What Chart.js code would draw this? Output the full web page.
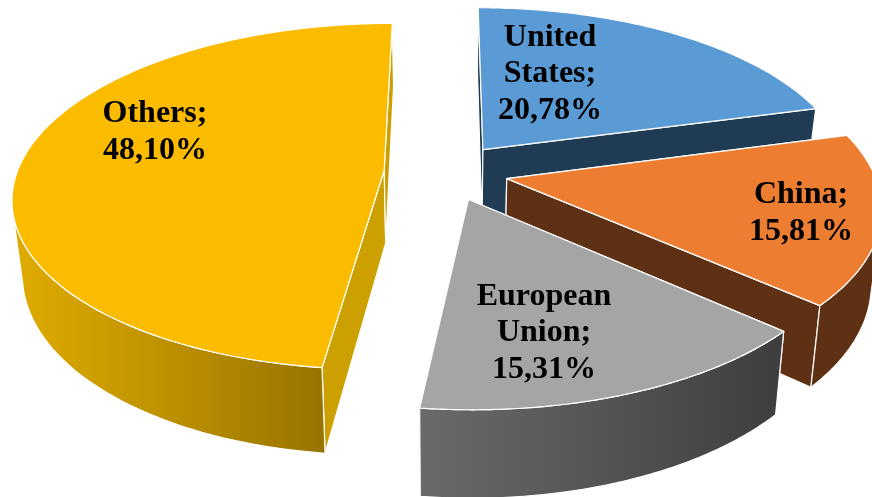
<!DOCTYPE html>
<html>
<head>
<meta charset="utf-8">
<title>Shares</title>
<script src="https://cdn.jsdelivr.net/npm/chart.js@4"></script>
<style>
    html, body { margin: 0; padding: 0; background: #fff; }
    canvas { display: block; }
</style>
</head>
<body>
<canvas id="pie" width="872" height="497"></canvas>
<script>
// Chart data
const categories = ['United States', 'China', 'European Union', 'Others'];
const shares = [20.78, 15.81, 15.31, 48.10];

// Slice colours: top face, cut faces, outer wall gradient (left to right)
const topColors = ['#5b9bd5', '#ed7d31', '#a5a5a5', '#fbbc00'];
const cutColors = ['#203c55', '#5f3114', '#404040', '#cca000'];
const wallLeftColors = ['#203c55', '#5f3114', '#6a6a6a', '#deaa00'];
const wallRightColors = ['#203c55', '#5f3114', '#3f3f3f', '#987400'];

// Label centres in page pixels
const labelX = [550, 801, 544, 155];
const labelY = [74, 213, 333, 132];

// Camera used to lay the flat pie down
const TILT = 0.462;
const PERSPECTIVE = 0.00041;
const DEPTH = 73;
const DEPTH_SHRINK = 0.024;

function project(arc, x, y, z) {
    const s = 1 / (1 - PERSPECTIVE * y);
    return { x: arc.x + x * s * (1 - DEPTH_SHRINK * z / DEPTH), y: arc.y + (TILT * y + z) * s };
}

function polygon(ctx, points) {
    ctx.beginPath();
    points.forEach((p, i) => i ? ctx.lineTo(p.x, p.y) : ctx.moveTo(p.x, p.y));
    ctx.closePath();
}

function paint(ctx, points, fill) {
    polygon(ctx, points);
    ctx.fillStyle = fill;
    ctx.fill();
    ctx.stroke();
}

// Takes the angles and radius Chart.js worked out for the arc and draws it as a solid wedge
function drawWedge(ctx, arc, index) {
    const mid = (arc.startAngle + arc.endAngle) / 2;
    const ox = Math.cos(mid) * arc.options.offset;
    const oy = Math.sin(mid) * arc.options.offset;
    const rim = [];
    for (let i = 0; i <= 96; i++) {
        const a = arc.startAngle + (arc.endAngle - arc.startAngle) * i / 96;
        rim.push([ox + Math.cos(a) * arc.outerRadius, oy + Math.sin(a) * arc.outerRadius]);
    }
    const up = rim.map(p => project(arc, p[0], p[1], 0));
    const down = rim.map(p => project(arc, p[0], p[1], DEPTH));
    const apexUp = project(arc, ox, oy, 0);
    const apexDown = project(arc, ox, oy, DEPTH);

    ctx.strokeStyle = '#fff';
    ctx.lineWidth = 1.2;
    ctx.lineJoin = 'round';

    // cut faces
    paint(ctx, [apexUp, up[0], down[0], apexDown], cutColors[index]);
    paint(ctx, [apexUp, up[96], down[96], apexDown], cutColors[index]);

    // outer wall, only the part of the rim that faces the viewer
    const seen = [];
    for (let i = 0; i < 96; i++) {
        const cross = (up[i + 1].x - up[i].x) * (down[i].y - up[i].y) - (up[i + 1].y - up[i].y) * (down[i].x - up[i].x);
        if (cross < 0) seen.push(i, i + 1);
    }
    if (seen.length) {
        const first = Math.min(...seen);
        const last = Math.max(...seen);
        const wallUp = up.slice(first, last + 1);
        const wallDown = down.slice(first, last + 1);
        const xs = wallDown.map(p => p.x);
        const gradient = ctx.createLinearGradient(Math.min(...xs), 0, Math.max(...xs), 0);
        gradient.addColorStop(0, wallLeftColors[index]);
        gradient.addColorStop(1, wallRightColors[index]);
        paint(ctx, wallUp.concat(wallDown.reverse()), gradient);
    }

    // top face
    paint(ctx, [apexUp].concat(up), arc.options.backgroundColor);
}

const solidPie = {
    id: 'solidPie',
    beforeDatasetDraw(chart, args) {
        const ctx = chart.ctx;
        const arcs = args.meta.data.map((arc, index) => ({ arc, index }));
        // back to front
        arcs.sort((a, b) => Math.sin((a.arc.startAngle + a.arc.endAngle) / 2) - Math.sin((b.arc.startAngle + b.arc.endAngle) / 2));
        ctx.save();
        arcs.forEach(item => drawWedge(ctx, item.arc, item.index));
        ctx.restore();
        return false;
    },
    afterDatasetsDraw(chart) {
        const ctx = chart.ctx;
        ctx.save();
        ctx.fillStyle = '#000';
        ctx.font = 'bold 32px "Liberation Serif"';
        ctx.textAlign = 'center';
        ctx.textBaseline = 'middle';
        categories.forEach((name, i) => {
            const lines = name.split(' ');
            lines[lines.length - 1] += ';';
            lines.push(shares[i].toFixed(2).replace('.', ',') + '%');
            lines.forEach((line, n) => {
                ctx.fillText(line, labelX[i], labelY[i] + (n - (lines.length - 1) / 2) * 36.5);
            });
        });
        ctx.restore();
    }
};

new Chart(document.getElementById('pie'), {
    type: 'pie',
    data: {
        labels: categories,
        datasets: [{
            data: shares,
            backgroundColor: topColors,
            offset: 62,
            radius: 367
        }]
    },
    options: {
        responsive: false,
        animation: false,
        radius: 367,
        layout: { padding: { left: 20, bottom: 153 } },
        plugins: {
            legend: { display: false },
            tooltip: { enabled: false }
        }
    },
    plugins: [solidPie]
});
</script>
</body>
</html>
